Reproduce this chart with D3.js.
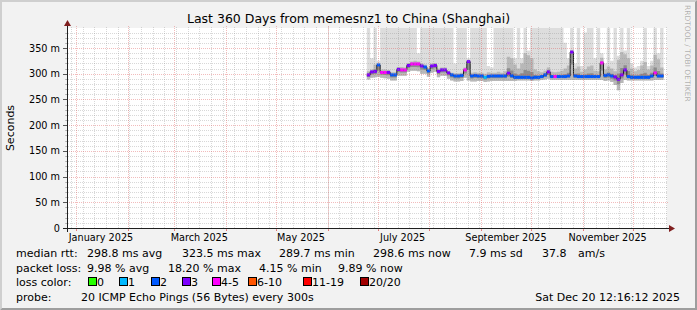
<!DOCTYPE html>
<html>
<head>
<meta charset="utf-8">
<script src="https://cdn.jsdelivr.net/npm/d3@7"></script>
<style>
body { margin: 0; background: #fff; }
svg { display: block; }
text { font-family: "DejaVu Sans", sans-serif; }
</style>
</head>
<body>
<svg></svg>
<script>
// SVG o'lchamlari
var width = 697;
var height = 310;
var svg = d3.select("svg").attr("width", width).attr("height", height);

// Ma'lumotlar: 2 kunlik bo'laklar, 2025-06-24 dan boshlab
var firstBucket = Date.UTC(2025, 5, 24, 12);
var bucketDays = 2;
var medianMs = [297.7, 303.5, 304.5, 317, 302.5, 302.5, 302.5, 297.7, 297.7, 308.4,
  307.4, 307.4, 316, 319, 319, 319, 315, 313, 305.4, 315,
  316, 304.5, 307.4, 307.4, 301.6, 297.7, 295.7, 295.7, 296.7, 307.4,
  323.5, 295.7, 296.7, 295.7, 295.7, 293, 295, 295.7, 295.7, 295.7,
  295.7, 295.7, 301, 296, 293, 293, 293, 293, 293, 291.8,
  293, 293, 294.4, 297.7, 303.5, 294.4, 294.4, 294.4, 294.4, 294.4,
  295.7, 342, 295.7, 294.4, 294.4, 294.4, 294.4, 294.4, 294.4, 294.4,
  321, 296.7, 297.7, 295.7, 293.8, 289.1, 297.7, 307.4, 294.4, 293,
  293, 293, 293, 293, 293, 295.7, 301.6, 295.7, 295.7];
var lostPings = [3, 3, 3, 2, 4, 4, 3, 2, 2, 3,
  4, 4, 3, 4, 4, 4, 3, 2, 2, 3,
  3, 3, 3, 3, 3, 2, 2, 2, 2, 4,
  3, 2, 2, 2, 2, 1, 2, 2, 2, 2,
  2, 2, 3, 2, 2, 2, 2, 2, 2, 2,
  2, 2, 2, 2, 3, 2, 4, 2, 2, 2,
  2, 3, 2, 2, 2, 2, 2, 2, 2, 2,
  4, 2, 2, 2, 3, 3, 3, 3, 2, 2,
  2, 2, 2, 2, 2, 2, 4, 2, 2];
var smokeLo = [289, 292, 293, 294, 292, 291, 290, 287, 287, 296,
  296, 296, 304, 306, 306, 305, 300, 300, 294, 302,
  304, 293, 296, 296, 290, 287, 285, 285, 286, 292,
  287, 285, 285, 286, 286, 284, 285, 286, 286, 286,
  286, 286, 286, 286, 286, 287, 287, 287, 287, 286,
  287, 287, 288, 289, 290, 288, 288, 288, 288, 288,
  288, 288, 288, 288, 288, 288, 288, 288, 288, 288,
  288, 286, 287, 284, 278, 268, 282, 288, 287, 287,
  287, 287, 287, 287, 287, 287, 288, 288, 288];
var smokeUp = [305, 308, 318, 320, 308, 308, 307, 303, 303, 313,
  313, 312, 321, 324, 325, 324, 320, 318, 311, 320,
  321, 310, 312, 312, 306, 302, 301, 301, 302, 312,
  326, 302, 303, 302, 302, 300, 303, 302, 302, 304,
  302, 305, 333, 330, 318, 310, 320, 340, 336, 330,
  308, 305, 303, 306, 312, 304, 303, 304, 306, 310,
  316, 346, 310, 314, 304, 308, 314, 316, 306, 305,
  331, 308, 314, 310, 305, 327, 342, 338, 330, 310,
  305, 307, 316, 323, 308, 316, 337, 328, 312];
var pingMax = [420, 330, 420, 325, 420, 420, 420, 420, 420, 420,
  420, 420, 420, 420, 420, 340, 420, 420, 420, 420,
  420, 420, 420, 420, 420, 420, 320, 420, 420, 420,
  330, 420, 420, 420, 420, 420, 315, 312, 420, 420,
  420, 420, 420, 420, 330, 420, 330, 420, 345, 420,
  420, 420, 420, 420, 420, 420, 420, 420, 420, 360,
  330, 420, 320, 420, 315, 380, 420, 420, 330, 420,
  340, 320, 420, 325, 420, 335, 420, 345, 420, 320,
  312, 315, 325, 420, 315, 325, 420, 340, 420];

// O'q belgilari
var yTickValues = [0, 50, 100, 150, 200, 250, 300, 350];
var yTickLabels = ["0", "50 m", "100 m", "150 m", "200 m", "250 m", "300 m", "350 m"];
var monthLabels = ["January 2025", "March 2025", "May 2025", "July 2025", "September 2025", "November 2025"];

// Yo'qotish ranglari (smokeping)
var lossNames = ["0", "1", "2", "3", "4-5", "6-10", "11-19", "20/20"];
var lossColors = ["#26ff00", "#00b8ff", "#0059ff", "#7e00ff", "#ff00ff", "#ff5500", "#ff0000", "#a10000"];
var lossUpper = [0, 1, 2, 3, 5, 10, 19, 20];
function lossColor(n) {
  for (var k = 0; k < lossUpper.length; k++) if (n <= lossUpper[k]) return lossColors[k];
  return lossColors[lossColors.length - 1];
}

// Grafik maydoni
var x0 = 67, x1 = 667, yTop = 28, yBot = 228;
var day = 864e5;
var t0 = new Date(Date.UTC(2025, 0, 1) - 5.4 * day);
var t1 = new Date(+t0 + 360 * day);
var x = d3.scaleUtc().domain([t0, t1]).range([x0, x1]);
var y = d3.scaleLinear().domain([0, 388.9]).range([yBot, yTop]);

// Fon va soya
svg.append("rect").attr("width", width).attr("height", height).attr("fill", "#f2f2f2");
svg.append("path")
  .attr("d", "M0," + height + "L2," + (height - 2) + "L2,2L" + (width - 2) + ",2L" + width + ",0L0,0Z")
  .attr("fill", "#cfcfcf");
svg.append("path")
  .attr("d", "M2," + (height - 2) + "L" + (width - 2) + "," + (height - 2) + "L" + (width - 2) + ",2L" + width + ",0L" + width + "," + height + "L0," + height + "Z")
  .attr("fill", "#9e9e9e");
svg.append("rect").attr("x", x0).attr("y", yTop).attr("width", x1 - x0).attr("height", yBot - yTop).attr("fill", "#fff");

// Bo'laklar
var buckets = medianMs.map(function (m, i) {
  return { t: new Date(firstBucket + i * bucketDays * day), med: m, lost: lostPings[i],
    lo: smokeLo[i], up: smokeUp[i], max: pingMax[i] };
});
var last = buckets[buckets.length - 1];
var stepPts = buckets.concat([Object.assign({}, last, { t: new Date(+last.t + bucketDays * day) })]);

var plot = svg.append("g");
plot.append("clipPath").attr("id", "clip")
  .append("rect").attr("x", x0).attr("y", yTop).attr("width", x1 - x0 + 1).attr("height", yBot - yTop);
var g = plot.append("g").attr("clip-path", "url(#clip)");

// Tutun (smoke)
function band(lowF, highF, color) {
  var area = d3.area().curve(d3.curveStepAfter)
    .x(function (d) { return x(d.t); })
    .y0(function (d) { return y(lowF(d)); })
    .y1(function (d) { return y(highF(d)); });
  g.append("path").attr("d", area(stepPts)).attr("fill", color);
}
band(function (d) { return d.lo; }, function (d) { return d.max; }, "#dddddd");
band(function (d) { return d.lo; }, function (d) { return d.up; }, "#b8b8b8");
band(function (d) { return d.med - (d.med - d.lo) * 0.45; }, function (d) { return d.med + (d.up - d.med) * 0.3; }, "#8c8c8c");

// Median chizig'i
var medLine = d3.line().curve(d3.curveStepAfter)
  .x(function (d) { return x(d.t); })
  .y(function (d) { return y(d.med); });
g.append("path").attr("d", medLine(stepPts)).attr("fill", "none").attr("stroke", "#202020").attr("stroke-width", 1);

g.selectAll("rect.med").data(buckets).enter().append("rect")
  .attr("x", function (d) { return x(d.t); })
  .attr("width", function (d) { return x(new Date(+d.t + bucketDays * day)) - x(d.t); })
  .attr("y", function (d) { return y(d.med) - 1.5; })
  .attr("height", 3)
  .attr("fill", function (d) { return lossColor(d.lost); });

// Grid
var grid = svg.append("g").attr("shape-rendering", "crispEdges");
d3.range(0, 389, 10).forEach(function (v) {
  if (v % 50 === 0) return;
  var yy = Math.round(y(v)) + 0.5;
  grid.append("line").attr("x1", x0 - 1).attr("x2", x1 + 1).attr("y1", yy).attr("y2", yy)
    .attr("stroke", "#8f8f8f").attr("stroke-opacity", 0.35).attr("stroke-dasharray", "1,1");
  grid.append("line").attr("x1", x0 - 2).attr("x2", x0).attr("y1", yy).attr("y2", yy).attr("stroke", "#8f8f8f").attr("stroke-opacity", 0.5);
});
d3.utcSunday.range(t0, t1).forEach(function (d) {
  var xx = Math.round(x(d)) + 0.5;
  grid.append("line").attr("x1", xx).attr("x2", xx).attr("y1", yTop - 1).attr("y2", yBot + 1)
    .attr("stroke", "#8f8f8f").attr("stroke-opacity", 0.35).attr("stroke-dasharray", "1,1");
});
yTickValues.forEach(function (v) {
  var yy = Math.round(y(v)) + 0.5;
  grid.append("line").attr("x1", x0 - 2).attr("x2", x1 + 2).attr("y1", yy).attr("y2", yy)
    .attr("stroke", "#de4f4f").attr("stroke-opacity", 0.38).attr("stroke-dasharray", "1,1");
  grid.append("line").attr("x1", x0 - 4).attr("x2", x0).attr("y1", yy).attr("y2", yy).attr("stroke", "#555");
});
d3.utcMonth.range(t0, t1).forEach(function (d) {
  var xx = Math.round(x(d)) + 0.5;
  grid.append("line").attr("x1", xx).attr("x2", xx).attr("y1", yTop - 2).attr("y2", yBot + 3)
    .attr("stroke", "#de4f4f").attr("stroke-opacity", 0.38).attr("stroke-dasharray", "1,1");
  grid.append("line").attr("x1", xx).attr("x2", xx).attr("y1", yBot).attr("y2", yBot + 3).attr("stroke", "#de4f4f").attr("stroke-opacity", 0.6);
});

// O'qlar va strelkalar
svg.append("line").attr("x1", x0 - 4).attr("x2", x1 + 4).attr("y1", yBot + 0.5).attr("y2", yBot + 0.5)
  .attr("stroke", "#1f1f1f").attr("stroke-width", 1);
svg.append("line").attr("x1", x0 + 0.5).attr("x2", x0 + 0.5).attr("y1", yBot + 4).attr("y2", yTop - 4)
  .attr("stroke", "#1f1f1f").attr("stroke-width", 1);
svg.append("path").attr("d", d3.line()([[x1 + 2, yBot - 3], [x1 + 2, yBot + 4], [x1 + 8, yBot + 0.5]]) + "Z").attr("fill", "#801f1f");
svg.append("path").attr("d", d3.line()([[x0 - 3, yTop - 2], [x0 + 4, yTop - 2], [x0 + 0.5, yTop - 8]]) + "Z").attr("fill", "#801f1f");

// O'q yozuvlari
yTickValues.forEach(function (v, i) {
  svg.append("text").attr("x", 60).attr("y", y(v) + 3.5)
    .attr("text-anchor", "end").attr("font-size", "9.7px").attr("fill", "#000")
    .text(yTickLabels[i]);
});
d3.utcMonth.range(new Date(Date.UTC(2025, 0, 1)), new Date(Date.UTC(2025, 11, 1)), 2).forEach(function (d, i) {
  svg.append("text").attr("x", x(new Date(+d + 15 * day))).attr("y", 241)
    .attr("text-anchor", "middle").attr("font-size", "9.7px").attr("fill", "#000")
    .text(monthLabels[i]);
});

// Sarlavha va yorliqlar
svg.append("text").attr("x", width / 2).attr("y", 23).attr("text-anchor", "middle")
  .attr("font-size", "12.5px").attr("fill", "#000")
  .text("Last 360 Days from memesnz1 to China (Shanghai)");
svg.append("text").attr("transform", "translate(14," + ((yTop + yBot) / 2) + ") rotate(-90)")
  .attr("text-anchor", "middle").attr("font-size", "11px").attr("fill", "#000").text("Seconds");
svg.append("text").attr("transform", "translate(685,5) rotate(90)")
  .attr("font-size", "7.5px").attr("fill", "#000").attr("fill-opacity", 0.3)
  .text("RRDTOOL / TOBI OETIKER");

// Legenda
var legendRows = [
  [["median rtt:", 16], ["298.8 ms avg", 87], ["323.5 ms max", 182], ["289.7 ms min", 279], ["298.6 ms now", 373], ["7.9 ms sd", 469], ["37.8", 542], ["am/s", 578]],
  [["packet loss:", 16], ["9.98 % avg", 87], ["18.20 % max", 168], ["4.15 % min", 259], ["9.89 % now", 338]],
  [["loss color:", 16]],
  [["probe:", 16], ["20 ICMP Echo Pings (56 Bytes) every 300s", 81]]
];
var rowY = [257, 271.5, 286, 300.5];
legendRows.forEach(function (row, r) {
  row.forEach(function (it) {
    svg.append("text").attr("x", it[1]).attr("y", rowY[r]).attr("font-size", "11px").attr("fill", "#000").text(it[0]);
  });
});
var boxX = [88, 119, 151, 182, 212, 248, 303, 360];
lossNames.forEach(function (name, i) {
  svg.append("rect").attr("x", boxX[i] + 0.5).attr("y", 277.5).attr("width", 8).attr("height", 8)
    .attr("fill", lossColors[i]).attr("stroke", "#000").attr("stroke-width", 1);
  svg.append("text").attr("x", boxX[i] + 9).attr("y", rowY[2]).attr("font-size", "11px").attr("fill", "#000").text(name);
});
svg.append("text").attr("x", 680).attr("y", rowY[3]).attr("text-anchor", "end")
  .attr("font-size", "11px").attr("fill", "#000").text("Sat Dec 20 12:16:12 2025");
</script>
</body>
</html>
